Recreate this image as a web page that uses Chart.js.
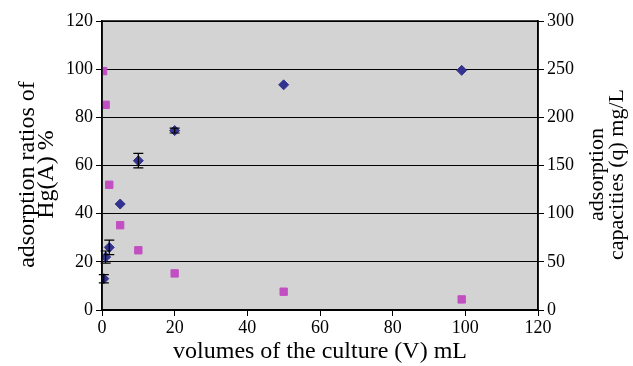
<!DOCTYPE html>
<html>
<head>
<meta charset="utf-8">
<script src="https://cdn.jsdelivr.net/npm/chart.js@4.4.0/dist/chart.umd.min.js"></script>
<style>
  html, body { margin: 0; padding: 0; background: #fff; }
  #wrap { width: 633px; height: 366px; }
</style>
</head>
<body>
<div id="wrap"><canvas id="myChart"></canvas></div>
<script>
// adsorption ratio (%) vs volume, left axis
var ratioVolumes = [0.5, 1, 2, 5, 10, 20, 50, 99];
var ratios = [13, 22, 26, 44, 62, 74.5, 93.5, 99.5];
var ratioErrors = [1.7, 2.5, 3, 0, 3, 1, 0, 0];

// adsorption capacity (mg/L) vs volume, right axis
var capVolumes = [0.3, 1, 2, 5, 10, 20, 50, 99];
var capacities = [248, 213, 130, 88, 62, 38, 19, 11];

var xTicks = [0, 20, 40, 60, 80, 100, 120];
var leftTitle = ['adsorption ratios of', 'Hg(A) %'];
var rightTitle = ['adsorption', 'capacities (q) mg/L'];

function toPoints(xs, ys) {
  return xs.map(function(x, i) { return { x: x, y: ys[i] }; });
}

var plotBack = {
  id: 'plotBack',
  beforeDraw: function(chart) {
    var a = chart.chartArea, c = chart.ctx;
    c.save();
    c.fillStyle = '#d3d3d3';
    c.fillRect(a.left, a.top, a.right - a.left, a.bottom - a.top);
    c.restore();
  },
  afterDraw: function(chart) {
    var a = chart.chartArea, c = chart.ctx;
    c.save();
    c.strokeStyle = '#000';
    c.lineWidth = 1.5;
    c.strokeRect(a.left, a.top, a.right - a.left, a.bottom - a.top);

    // rotated axis titles, both reading bottom to top
    c.fillStyle = '#000';
    c.textAlign = 'center';
    c.textBaseline = 'middle';
    var midY = (a.top + a.bottom) / 2 + 9;
    function vtext(lines, x0, step, size) {
      c.font = size + 'px "Liberation Serif"';
      lines.forEach(function(t, i) {
        c.save();
        c.translate(x0 + i * step, midY);
        c.rotate(-Math.PI / 2);
        c.fillText(t, 0, 0);
        c.restore();
      });
    }
    vtext(leftTitle, a.left - 74, 19, 24);
    vtext(rightTitle, a.right + 59, 20, 22);
    c.restore();
  }
};

var errorBars = {
  id: 'errorBars',
  afterDatasetsDraw: function(chart) {
    var xs = chart.scales.x, ys = chart.scales.y, c = chart.ctx;
    c.save();
    c.strokeStyle = '#000';
    c.lineWidth = 1.2;
    ratios.forEach(function(v, i) {
      var e = ratioErrors[i];
      if (!e) return;
      var px = xs.getPixelForValue(ratioVolumes[i]);
      var top = ys.getPixelForValue(v + e), bot = ys.getPixelForValue(v - e);
      c.beginPath();
      c.moveTo(px, top); c.lineTo(px, bot);
      c.moveTo(px - 5, top); c.lineTo(px + 5, top);
      c.moveTo(px - 5, bot); c.lineTo(px + 5, bot);
      c.stroke();
    });
    c.restore();
  }
};

var tickFont = { family: 'Liberation Serif', size: 18 };
var titleFont = { family: 'Liberation Serif', size: 24 };

new Chart(document.getElementById('myChart'), {
  type: 'scatter',
  data: {
    datasets: [{
      label: 'ratio',
      data: toPoints(ratioVolumes, ratios),
      yAxisID: 'y',
      pointStyle: 'rectRot',
      pointRadius: 5,
      backgroundColor: '#33338f',
      borderColor: '#33338f'
    }, {
      label: 'capacity',
      data: toPoints(capVolumes, capacities),
      yAxisID: 'y2',
      pointStyle: 'rect',
      pointRadius: 5.2,
      backgroundColor: '#c24fc2',
      borderColor: '#c24fc2'
    }]
  },
  options: {
    responsive: true,
    maintainAspectRatio: false,
    animation: false,
    layout: { padding: { top: 21, right: 0, bottom: 0, left: 0 } },
    plugins: { legend: { display: false }, tooltip: { enabled: false } },
    scales: {
      x: {
        type: 'linear', min: 0, max: 120,
        afterBuildTicks: function(s) { s.ticks = xTicks.map(function(v) { return { value: v }; }); },
        afterFit: function(s) { s.height = 56; },
        grid: { drawOnChartArea: false, drawTicks: true, tickLength: 6, color: '#000' },
        border: { display: true, color: '#000', width: 1.5 },
        ticks: { font: tickFont, color: '#000', padding: 1, maxRotation: 0 },
        title: { display: true, text: 'volumes of the culture (V) mL', font: titleFont, color: '#000', padding: { top: 0, bottom: 0 } }
      },
      y: {
        position: 'left', min: 0, max: 120,
        afterFit: function(s) { s.width = 102; },
        grid: { color: '#000', lineWidth: 1, drawTicks: true, tickLength: 6 },
        border: { display: true, color: '#000', width: 1.5 },
        ticks: { stepSize: 20, font: tickFont, color: '#000', padding: 3 }
      },
      y2: {
        position: 'right', min: 0, max: 300,
        afterFit: function(s) { s.width = 95; },
        grid: { drawOnChartArea: false, drawTicks: true, tickLength: 6, color: '#000' },
        border: { display: true, color: '#000', width: 1.5 },
        ticks: { stepSize: 50, font: tickFont, color: '#000', padding: 3 }
      }
    }
  },
  plugins: [plotBack, errorBars]
});
</script>
</body>
</html>
